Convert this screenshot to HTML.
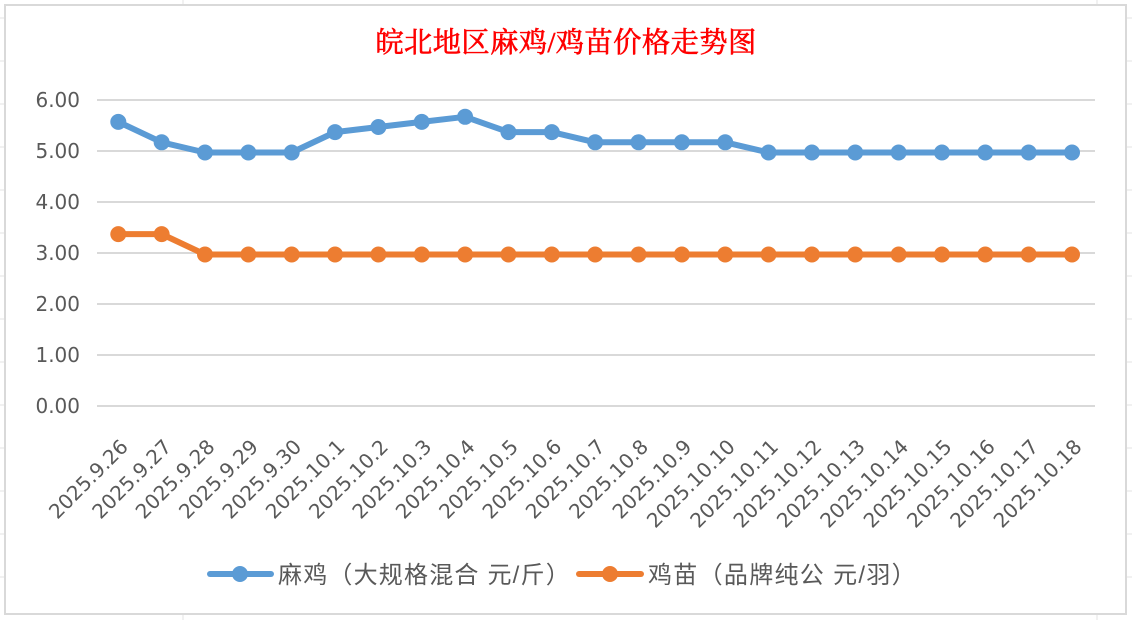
<!DOCTYPE html>
<html><head><meta charset="utf-8"><style>
html,body{margin:0;padding:0;background:#fff;}
svg{display:block;}
</style></head><body>
<svg width="1132" height="620" viewBox="0 0 1132 620" xmlns="http://www.w3.org/2000/svg">
<rect x="0" y="0" width="1132" height="620" fill="#fff"/>
<g stroke="#e3e3e3" stroke-width="1">
<line x1="0" y1="18" x2="1132" y2="18"/><line x1="0" y1="61" x2="1132" y2="61"/><line x1="0" y1="104" x2="1132" y2="104"/><line x1="0" y1="147" x2="1132" y2="147"/><line x1="0" y1="190" x2="1132" y2="190"/><line x1="0" y1="233" x2="1132" y2="233"/><line x1="0" y1="276" x2="1132" y2="276"/><line x1="0" y1="319" x2="1132" y2="319"/><line x1="0" y1="362" x2="1132" y2="362"/><line x1="0" y1="405" x2="1132" y2="405"/><line x1="0" y1="448" x2="1132" y2="448"/><line x1="0" y1="491" x2="1132" y2="491"/><line x1="0" y1="534" x2="1132" y2="534"/><line x1="0" y1="577" x2="1132" y2="577"/>
<line x1="183" y1="0" x2="183" y2="620"/><line x1="1097" y1="0" x2="1097" y2="620"/>
</g>
<rect x="5" y="5" width="1121" height="609" fill="#fff" stroke="#d9d9d9" stroke-width="2"/>
<text x="566" y="52" text-anchor="middle" fill="#ff0000" stroke="#ff0000" stroke-width="0.6" letter-spacing="0.4" font-family="Liberation Serif, 'Noto Serif CJK SC', serif" font-size="28.3">皖北地区麻鸡/鸡苗价格走势图</text>
<g stroke="#d9d9d9" stroke-width="2">
<line x1="97" y1="100" x2="1095" y2="100"/><line x1="97" y1="151" x2="1095" y2="151"/><line x1="97" y1="202" x2="1095" y2="202"/><line x1="97" y1="253" x2="1095" y2="253"/><line x1="97" y1="304" x2="1095" y2="304"/><line x1="97" y1="355" x2="1095" y2="355"/><line x1="97" y1="406" x2="1095" y2="406"/>
</g>
<g fill="#595959" font-family="DejaVu Sans, sans-serif" font-size="20" text-anchor="end">
<text x="80" y="107">6.00</text><text x="80" y="158">5.00</text><text x="80" y="209">4.00</text><text x="80" y="260">3.00</text><text x="80" y="311">2.00</text><text x="80" y="362">1.00</text><text x="80" y="413">0.00</text>
</g>
<g id="xl" fill="#595959" font-family="DejaVu Sans, sans-serif" font-size="20" text-anchor="end"></g>
<polyline id="ob" fill="none" stroke="#ed7d31" stroke-width="6" stroke-linejoin="round"/>
<g id="om" fill="#ed7d31"></g>
<polyline id="bb" fill="none" stroke="#5b9bd5" stroke-width="6" stroke-linejoin="round"/>
<g id="bm" fill="#5b9bd5"></g>
<line x1="210" y1="574" x2="271" y2="574" stroke="#5b9bd5" stroke-width="6" stroke-linecap="round"/>
<circle cx="240" cy="574" r="8" fill="#5b9bd5"/>
<text x="278" y="583" fill="#595959" letter-spacing="1.2" font-family="Liberation Sans, 'Noto Sans CJK SC', sans-serif" font-size="24">麻鸡（大规格混合 元/斤）</text>
<line x1="579" y1="574" x2="641" y2="574" stroke="#ed7d31" stroke-width="6" stroke-linecap="round"/>
<circle cx="610" cy="574" r="8" fill="#ed7d31"/>
<text x="648" y="583" fill="#595959" letter-spacing="1.3" font-family="Liberation Sans, 'Noto Sans CJK SC', sans-serif" font-size="24">鸡苗（品牌纯公 元/羽）</text>
</svg>
<script>
(function(){
var ns="http://www.w3.org/2000/svg";
var labels=["2025.9.26","2025.9.27","2025.9.28","2025.9.29","2025.9.30","2025.10.1","2025.10.2","2025.10.3","2025.10.4","2025.10.5","2025.10.6","2025.10.7","2025.10.8","2025.10.9","2025.10.10","2025.10.11","2025.10.12","2025.10.13","2025.10.14","2025.10.15","2025.10.16","2025.10.17","2025.10.18"];
var blue=[5.6,5.2,5.0,5.0,5.0,5.4,5.5,5.6,5.7,5.4,5.4,5.2,5.2,5.2,5.2,5.0,5.0,5.0,5.0,5.0,5.0,5.0,5.0];
var orange=[3.4,3.4,3,3,3,3,3,3,3,3,3,3,3,3,3,3,3,3,3,3,3,3,3];
function X(i){return 118.3+43.35*i;}
function Y(v){return 406-51*v+1.5;}
var xl=document.getElementById("xl");
var bp=[],op=[];
for(var i=0;i<23;i++){
 var ex=X(i)+11, ey=448;
 var t=document.createElementNS(ns,"text");
 t.setAttribute("x",ex);t.setAttribute("y",ey);
 t.setAttribute("transform","rotate(-45 "+ex+" "+ey+")");
 t.textContent=labels[i];xl.appendChild(t);
 bp.push(X(i).toFixed(1)+","+Y(blue[i]).toFixed(1));
 op.push(X(i).toFixed(1)+","+Y(orange[i]).toFixed(1));
 var c=document.createElementNS(ns,"circle");c.setAttribute("cx",X(i));c.setAttribute("cy",Y(blue[i]));c.setAttribute("r",8);document.getElementById("bm").appendChild(c);
 var d=document.createElementNS(ns,"circle");d.setAttribute("cx",X(i));d.setAttribute("cy",Y(orange[i]));d.setAttribute("r",8);document.getElementById("om").appendChild(d);
}
document.getElementById("bb").setAttribute("points",bp.join(" "));
document.getElementById("ob").setAttribute("points",op.join(" "));
})();
</script>
</body></html>
